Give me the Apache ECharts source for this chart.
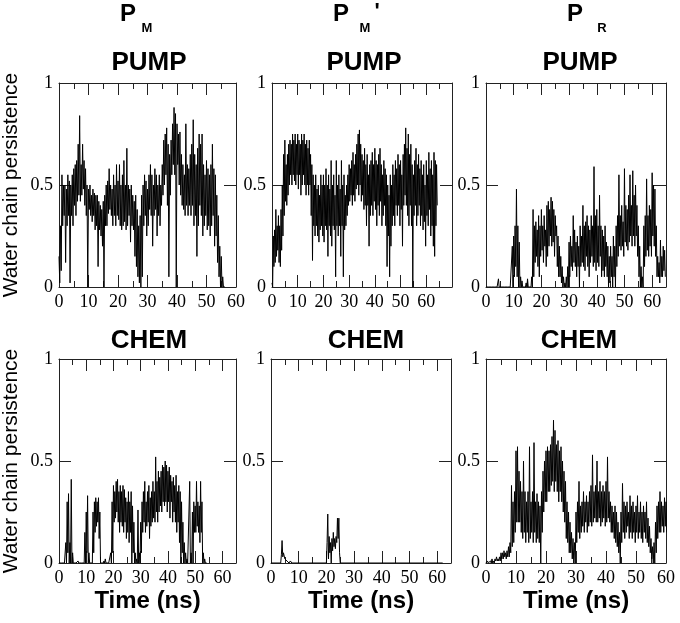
<!DOCTYPE html>
<html>
<head>
<meta charset="utf-8">
<script src="https://cdn.jsdelivr.net/npm/echarts@6/dist/echarts.min.js"></script>
<style>
    html, body { margin: 0; padding: 0; background: #fff; }
    #chart { width: 680px; height: 623px; }
</style>
</head>
<body>
<div id="chart"></div>
<script>
// traces are read every 0.5 ns as the top (hi) and bottom (lo) of the noisy band
const step = 0.5;

// PUMP, P_M  (0 .. 56 ns)
const pmPumpHi = [0.15, 0.3, 0.55, 0.5, 0.5, 0.48, 0.55, 0.52, 0.5, 0.55,
    0.58, 0.6, 0.62, 0.7, 0.84, 0.6, 0.7, 0.62, 0.58, 0.5,
    0.48, 0.5, 0.45, 0.48, 0.46, 0.45, 0.45, 0.42, 0.4, 0.38,
    0.42, 0.45, 0.5, 0.52, 0.58, 0.5, 0.48, 0.55, 0.5, 0.6,
    0.52, 0.6, 0.5, 0.55, 0.62, 0.5, 0.68, 0.5, 0.48, 0.5,
    0.45, 0.42, 0.45, 0.38, 0.3, 0.35, 0.45, 0.5, 0.55, 0.52,
    0.48, 0.55, 0.6, 0.55, 0.5, 0.58, 0.55, 0.5, 0.55, 0.5,
    0.6, 0.72, 0.75, 0.78, 0.7, 0.65, 0.72, 0.8, 0.88, 0.85,
    0.8, 0.75, 0.76, 0.65, 0.6, 0.55, 0.8, 0.6, 0.58, 0.65,
    0.7, 0.82, 0.65, 0.6, 0.68, 0.75, 0.7, 0.75, 0.6, 0.55,
    0.62, 0.58, 0.55, 0.6, 0.7, 0.58, 0.55, 0.45, 0.35, 0.2,
    0.15, 0.05, 0];
const pmPumpLo = [0.02, 0.08, 0.3, 0.35, 0.12, 0.3, 0.35, 0.02, 0.35, 0.3,
    0.4, 0.35, 0.42, 0.45, 0.42, 0.45, 0.48, 0.4, 0.35, 0.0,
    0.38, 0.35, 0.32, 0.35, 0.28, 0.3, 0.1, 0.28, 0.25, 0.2,
    0.0, 0.3, 0.3, 0.36, 0.38, 0.35, 0.3, 0.35, 0.3, 0.35,
    0.33, 0.3, 0.28, 0.3, 0.32, 0.28, 0.3, 0.35, 0.22, 0.3,
    0.28, 0.15, 0.1, 0.05, 0.02, 0.0, 0.05, 0.3, 0.35, 0.25,
    0.3, 0.38, 0.35, 0.2, 0.35, 0.38, 0.25, 0.35, 0.3, 0.4,
    0.45, 0.5, 0.55, 0.4, 0.05, 0.45, 0.55, 0.6, 0.55, 0.0,
    0.6, 0.5, 0.45, 0.4, 0.38, 0.35, 0.4, 0.35, 0.4, 0.35,
    0.4, 0.3, 0.35, 0.15, 0.3, 0.4, 0.35, 0.25, 0.3, 0.35,
    0.28, 0.3, 0.25, 0.3, 0.35, 0.2, 0.25, 0.12, 0.05, 0.0,
    0.0, 0.0, 0];

// PUMP, P_M'  (0 .. 64 ns)
const pmpPumpHi = [0.02, 0.25, 0.28, 0.38, 0.3, 0.35, 0.3, 0.38, 0.5, 0.65,
    0.72, 0.6, 0.65, 0.7, 0.72, 0.7, 0.75, 0.72, 0.75, 0.7,
    0.75, 0.72, 0.7, 0.75, 0.72, 0.75, 0.7, 0.72, 0.68, 0.72,
    0.65, 0.6, 0.55, 0.5, 0.55, 0.48, 0.5, 0.45, 0.55, 0.5,
    0.55, 0.5, 0.58, 0.5, 0.55, 0.48, 0.62, 0.5, 0.55, 0.45,
    0.62, 0.5, 0.55, 0.48, 0.62, 0.5, 0.55, 0.45, 0.5, 0.55,
    0.6, 0.58, 0.62, 0.66, 0.6, 0.65, 0.7, 0.75, 0.77, 0.7,
    0.65, 0.62, 0.68, 0.6, 0.65, 0.55, 0.6, 0.62, 0.66, 0.6,
    0.68, 0.62, 0.6, 0.65, 0.68, 0.6, 0.55, 0.62, 0.58, 0.55,
    0.5, 0.45, 0.55, 0.5, 0.6, 0.55, 0.62, 0.58, 0.65, 0.6,
    0.62, 0.55, 0.65, 0.7, 0.78, 0.68, 0.75, 0.65, 0.7, 0.6,
    0.55, 0.62, 0.68, 0.6, 0.65, 0.58, 0.62, 0.55, 0.6, 0.5,
    0.62, 0.55, 0.66, 0.58, 0.62, 0.55, 0.66, 0.62, 0.6];
const pmpPumpLo = [0.0, 0.1, 0.12, 0.15, 0.18, 0.12, 0.1, 0.18, 0.25, 0.35,
    0.42, 0.4, 0.45, 0.5, 0.55, 0.5, 0.55, 0.52, 0.5, 0.55,
    0.48, 0.55, 0.45, 0.5, 0.55, 0.5, 0.45, 0.5, 0.45, 0.5,
    0.35, 0.13, 0.3, 0.25, 0.3, 0.25, 0.22, 0.28, 0.3, 0.25,
    0.22, 0.3, 0.28, 0.15, 0.3, 0.25, 0.2, 0.3, 0.28, 0.05,
    0.3, 0.25, 0.3, 0.15, 0.3, 0.05, 0.28, 0.3, 0.35, 0.4,
    0.42, 0.45, 0.4, 0.45, 0.42, 0.48, 0.5, 0.45, 0.5, 0.42,
    0.45, 0.38, 0.4, 0.3, 0.4, 0.2, 0.35, 0.4, 0.35, 0.42,
    0.38, 0.3, 0.4, 0.35, 0.42, 0.3, 0.35, 0.4, 0.3, 0.1,
    0.25, 0.05, 0.2, 0.3, 0.35, 0.3, 0.4, 0.35, 0.4, 0.3,
    0.38, 0.2, 0.4, 0.45, 0.4, 0.35, 0.3, 0.4, 0.3, 0.0,
    0.35, 0.4, 0.3, 0.35, 0.4, 0.3, 0.35, 0.28, 0.32, 0.2,
    0.35, 0.3, 0.38, 0.25, 0.3, 0.2, 0.15, 0.3, 0.4];

// PUMP, P_R  (0 .. 64.5 ns)
const prPumpHi = [0, 0, 0, 0, 0, 0, 0, 0, 0, 0.04,
    0, 0, 0, 0, 0, 0, 0, 0, 0, 0.2,
    0.25, 0.3, 0.48, 0.3, 0.22, 0.05, 0.03, 0, 0, 0.02,
    0.04, 0, 0, 0.05, 0.38, 0.3, 0.32, 0.28, 0.35, 0.3,
    0.38, 0.3, 0.35, 0.28, 0.4, 0.42, 0.38, 0.44, 0.42, 0.38,
    0.35, 0.3, 0.25, 0.2, 0.15, 0.1, 0.05, 0.02, 0.05, 0.1,
    0.22, 0.25, 0.2, 0.35, 0.28, 0.22, 0.25, 0.2, 0.3, 0.25,
    0.4, 0.3, 0.32, 0.35, 0.3, 0.28, 0.35, 0.3, 0.59, 0.35,
    0.38, 0.3, 0.45, 0.3, 0.28, 0.25, 0.3, 0.22, 0.2, 0.15,
    0.2, 0.15, 0.25, 0.2, 0.3, 0.35, 0.55, 0.35, 0.4, 0.32,
    0.58, 0.4, 0.38, 0.45, 0.55, 0.4, 0.57, 0.45, 0.5, 0.4,
    0.3, 0.2, 0.1, 0.05, 0.3, 0.35, 0.53, 0.35, 0.4, 0.38,
    0.56, 0.5, 0.48, 0.3, 0.15, 0.12, 0.23, 0.15, 0.2, 0.18];
const prPumpLo = [0, 0, 0, 0, 0, 0, 0, 0, 0, 0,
    0, 0, 0, 0, 0, 0, 0, 0, 0, 0,
    0.05, 0.1, 0.05, 0, 0, 0, 0, 0, 0, 0,
    0, 0, 0, 0, 0.05, 0.12, 0.15, 0.1, 0.05, 0.15,
    0.18, 0.12, 0.2, 0.1, 0.15, 0.2, 0.25, 0.2, 0.22, 0.15,
    0.25, 0.1, 0.05, 0.05, 0.02, 0, 0, 0, 0, 0,
    0.05, 0.1, 0.08, 0.12, 0.1, 0.05, 0.1, 0, 0.1, 0.12,
    0.1, 0.08, 0.15, 0.1, 0.05, 0.12, 0.15, 0.1, 0.12, 0.08,
    0.12, 0.1, 0.15, 0.05, 0.08, 0.05, 0.1, 0.05, 0, 0.02,
    0.05, 0, 0.05, 0, 0.1, 0.15, 0.2, 0.18, 0.2, 0.15,
    0.22, 0.2, 0.18, 0.22, 0.25, 0.2, 0.25, 0.2, 0.25, 0.15,
    0.05, 0, 0, 0, 0.1, 0.15, 0.18, 0.15, 0.2, 0.15,
    0.25, 0.2, 0.15, 0.05, 0.05, 0.02, 0.05, 0.05, 0.08, 0.05];

// CHEM, P_M  (0 .. 54 ns)
const pmChemHi = [0, 0, 0, 0, 0, 0.1, 0.3, 0.34, 0.1, 0.41,
    0.05, 0, 0, 0, 0.01, 0, 0, 0, 0, 0.15,
    0.25, 0.33, 0.05, 0, 0, 0.25, 0.3, 0.32, 0.3, 0.32,
    0.25, 0, 0, 0.01, 0.02, 0, 0, 0, 0.05, 0.3,
    0.38, 0.35, 0.4, 0.41, 0.35, 0.38, 0.35, 0.38, 0.36, 0.32,
    0.3, 0.35, 0.3, 0.35, 0.28, 0.2, 0.05, 0.02, 0.26, 0.05,
    0.2, 0.3, 0.35, 0.4, 0.3, 0.35, 0.38, 0.32, 0.35, 0.4,
    0.35, 0.52, 0.4, 0.45, 0.42, 0.45, 0.48, 0.47, 0.5, 0.48,
    0.45, 0.47, 0.43, 0.4, 0.42, 0.38, 0.43, 0.35, 0.38, 0.35,
    0.3, 0.2, 0.1, 0.05, 0.02, 0, 0.4, 0.05, 0.25, 0.3,
    0.28, 0.4, 0.3, 0.28, 0.4, 0.3, 0.05, 0.02, 0];
const pmChemLo = [0, 0, 0, 0, 0, 0, 0.05, 0, 0, 0,
    0, 0, 0, 0, 0, 0, 0, 0, 0, 0,
    0.05, 0, 0, 0, 0, 0.05, 0.15, 0.18, 0.2, 0.12,
    0, 0, 0, 0, 0, 0, 0, 0, 0, 0.05,
    0.2, 0.22, 0.25, 0.2, 0.15, 0.2, 0.18, 0.15, 0.2, 0.12,
    0.15, 0.1, 0.15, 0, 0.05, 0, 0, 0, 0, 0,
    0.05, 0.15, 0.2, 0.15, 0.18, 0.2, 0.12, 0.18, 0.2, 0.22,
    0.2, 0.25, 0.2, 0.25, 0.28, 0.25, 0.3, 0.28, 0.3, 0.25,
    0.3, 0.22, 0.3, 0.2, 0.25, 0.2, 0.15, 0.2, 0.1, 0,
    0.05, 0, 0, 0, 0, 0, 0, 0, 0, 0.15,
    0.15, 0.18, 0.15, 0.1, 0.15, 0, 0, 0, 0];

// CHEM, P_M'  (sparse: times and values)
const pmpChemT = [0, 3.5, 3.75, 4, 4.25, 4.5, 5, 6.5, 7, 7.5, 20, 20.25, 20.5, 20.75, 21, 21.25, 21.5, 21.75,
    22, 22.25, 22.5, 22.75, 23, 23.25, 23.5, 23.75, 24, 24.25, 24.5, 24.75, 25, 62];
const pmpChemV = [0, 0, 0.04, 0.11, 0.03, 0.05, 0.02, 0, 0.01, 0, 0, 0.1, 0.24, 0.02, 0.13, 0.05, 0.1, 0.0,
    0.12, 0.06, 0.15, 0.08, 0.12, 0.07, 0.13, 0.1, 0.22, 0.12, 0.22, 0.05, 0, 0];

// CHEM, P_R  (0 .. 60 ns)
const prChemHi = [0, 0.01, 0, 0.01, 0.02, 0.01, 0.02, 0.03, 0.02, 0.03,
    0.05, 0.05, 0.06, 0.05, 0.06, 0.08, 0.1, 0.38, 0.3, 0.35,
    0.55, 0.57, 0.45, 0.4, 0.35, 0.5, 0.35, 0.3, 0.35, 0.57,
    0.3, 0.35, 0.59, 0.3, 0.34, 0.3, 0.28, 0.35, 0.45, 0.5,
    0.55, 0.57, 0.55, 0.58, 0.62, 0.7, 0.65, 0.58, 0.6, 0.55,
    0.57, 0.5, 0.45, 0.4, 0.3, 0.25, 0.2, 0.15, 0.12, 0.1,
    0.25, 0.3, 0.4, 0.28, 0.3, 0.35, 0.3, 0.33, 0.3, 0.35,
    0.38, 0.53, 0.35, 0.38, 0.5, 0.35, 0.4, 0.35, 0.38, 0.35,
    0.4, 0.52, 0.35, 0.3, 0.28, 0.25, 0.28, 0.25, 0.2, 0.15,
    0.25, 0.39, 0.3, 0.28, 0.3, 0.25, 0.33, 0.28, 0.3, 0.25,
    0.28, 0.33, 0.25, 0.3, 0.25, 0.28, 0.25, 0.3, 0.22, 0.18,
    0.12, 0.08, 0.1, 0.2, 0.28, 0.3, 0.35, 0.3, 0.28, 0.32,
    0.3];
const prChemLo = [0, 0, 0, 0, 0, 0, 0.01, 0.01, 0.01, 0.01,
    0.02, 0.02, 0.03, 0.02, 0.03, 0.03, 0.05, 0.08, 0.1, 0.15,
    0.2, 0.2, 0.2, 0.15, 0.12, 0.15, 0.1, 0.15, 0.1, 0.12,
    0.15, 0.1, 0.15, 0.1, 0.12, 0.1, 0.0, 0.15, 0.25, 0.3,
    0.3, 0.35, 0.35, 0.38, 0.4, 0.35, 0.4, 0.35, 0.3, 0.35,
    0.3, 0.25, 0.2, 0.12, 0.1, 0.05, 0.05, 0.02, 0.0, 0.0,
    0.1, 0.15, 0.12, 0.15, 0.18, 0.15, 0.2, 0.15, 0.18, 0.2,
    0.18, 0.2, 0.22, 0.2, 0.2, 0.22, 0.18, 0.2, 0.22, 0.18,
    0.2, 0.22, 0.2, 0.15, 0.15, 0.12, 0.1, 0.08, 0.05, 0.0,
    0.1, 0.15, 0.12, 0.15, 0.18, 0.12, 0.15, 0.12, 0.15, 0.1,
    0.15, 0.12, 0.15, 0.12, 0.1, 0.15, 0.12, 0.1, 0.08, 0.05,
    0.02, 0.0, 0.0, 0.05, 0.12, 0.15, 0.15, 0.18, 0.15, 0.18,
    0.15];

const SANS = 'Liberation Sans';
const SERIF = 'Liberation Serif';
const AXIS_COLOR = '#222';

// hi at t, lo half a step later -> zigzag that fills the band
function bandPairs(hi, lo) {
    const out = [];
    hi.forEach((h, i) => {
        out.push([i * step, h]);
        out.push([i * step + step / 2, lo[i]]);
    });
    return out;
}

const W = 180, H = 204;
const panels = [
    { left: 56, top: 83, max: 60, data: bandPairs(pmPumpHi, pmPumpLo) },
    { left: 272, top: 83, max: 70, data: bandPairs(pmpPumpHi, pmpPumpLo) },
    { left: 486, top: 83, max: 65, data: bandPairs(prPumpHi, prPumpLo) },
    { left: 56, top: 359, max: 65, data: bandPairs(pmChemHi, pmChemLo) },
    { left: 271, top: 359, max: 65, data: pmpChemT.map((t, i) => [t, pmpChemV[i]]) },
    { left: 486, top: 359, max: 60, data: bandPairs(prChemHi, prChemLo) }
];

let grids = [], xAxes = [], yAxes = [], series = [];

panels.forEach((p, i) => {
    grids.push({ left: p.left, top: p.top, width: W, height: H });

    const lineStyle = { color: AXIS_COLOR, width: 1 };
    const bottomRow = i >= 3;
    // major ticks (labels on bottom) and minor ticks, on bottom and top
    ['bottom', 'top'].forEach(pos => {
        xAxes.push({
            gridIndex: i, type: 'value', position: pos, min: 0, max: p.max, interval: 10,
            name: (pos === 'bottom' && bottomRow) ? 'Time (ns)' : '',
            nameLocation: 'middle', nameGap: 26,
            nameTextStyle: { fontFamily: SANS, fontSize: 24, fontWeight: 'bold', color: '#000' },
            axisLine: { show: true, onZero: false, lineStyle },
            axisTick: { show: true, inside: true, length: 12, lineStyle },
            axisLabel: {
                show: pos === 'bottom', showMaxLabel: p.max <= 60,
                margin: 6, color: '#000', fontFamily: SERIF, fontSize: 18
            },
            splitLine: { show: false }
        });
        xAxes.push({
            gridIndex: i, type: 'value', position: pos, min: 0, max: p.max, interval: 5,
            axisLine: { show: false, onZero: false },
            axisTick: { show: true, inside: true, length: 6, lineStyle },
            axisLabel: { show: false },
            splitLine: { show: false }
        });
    });
    ['left', 'right'].forEach(pos => {
        yAxes.push({
            gridIndex: i, type: 'value', position: pos, min: 0, max: 1, interval: 0.5,
            name: (pos === 'left' && i % 3 === 0) ? 'Water chain persistence' : '',
            nameLocation: 'middle', nameRotate: 90, nameGap: 37,
            nameTextStyle: { fontFamily: SANS, fontSize: 21, color: '#000' },
            axisLine: { show: true, onZero: false, lineStyle },
            axisTick: { show: true, inside: true, length: 12, lineStyle },
            axisLabel: {
                show: pos === 'left',
                margin: 6, color: '#000', fontFamily: SERIF, fontSize: 18
            },
            splitLine: { show: false }
        });
    });

    series.push({
        type: 'line',
        xAxisIndex: i * 4,
        yAxisIndex: i * 2,
        data: p.data,
        showSymbol: false,
        symbol: 'none',
        lineStyle: { color: '#000', width: 1, join: 'bevel' },
        clip: true,
        animation: false
    });
});

// one title entry per piece of text, centred on (x, y)
function ttl(x, y, text, size) {
    return {
        text: text, left: x, top: y, padding: 0,
        textAlign: 'center', textVerticalAlign: 'middle',
        textStyle: { fontFamily: SANS, fontSize: size, fontWeight: 'bold', color: '#000' }
    };
}

const titles = [
    ttl(128, 14, 'P', 24), ttl(147, 28, 'M', 13),
    ttl(341, 14, 'P', 24), ttl(365, 28, 'M', 13), ttl(377, 12, "'", 22),
    ttl(575, 14, 'P', 24), ttl(602, 28, 'R', 13),
    ttl(149, 63, 'PUMP', 26), ttl(364, 63, 'PUMP', 26), ttl(580, 63, 'PUMP', 26),
    ttl(149, 341, 'CHEM', 26), ttl(366, 341, 'CHEM', 26), ttl(579, 341, 'CHEM', 26)
];

const chart = echarts.init(document.getElementById('chart'));
chart.setOption({
    animation: false,
    title: titles,
    grid: grids,
    xAxis: xAxes,
    yAxis: yAxes,
    series: series
});
</script>
</body>
</html>
